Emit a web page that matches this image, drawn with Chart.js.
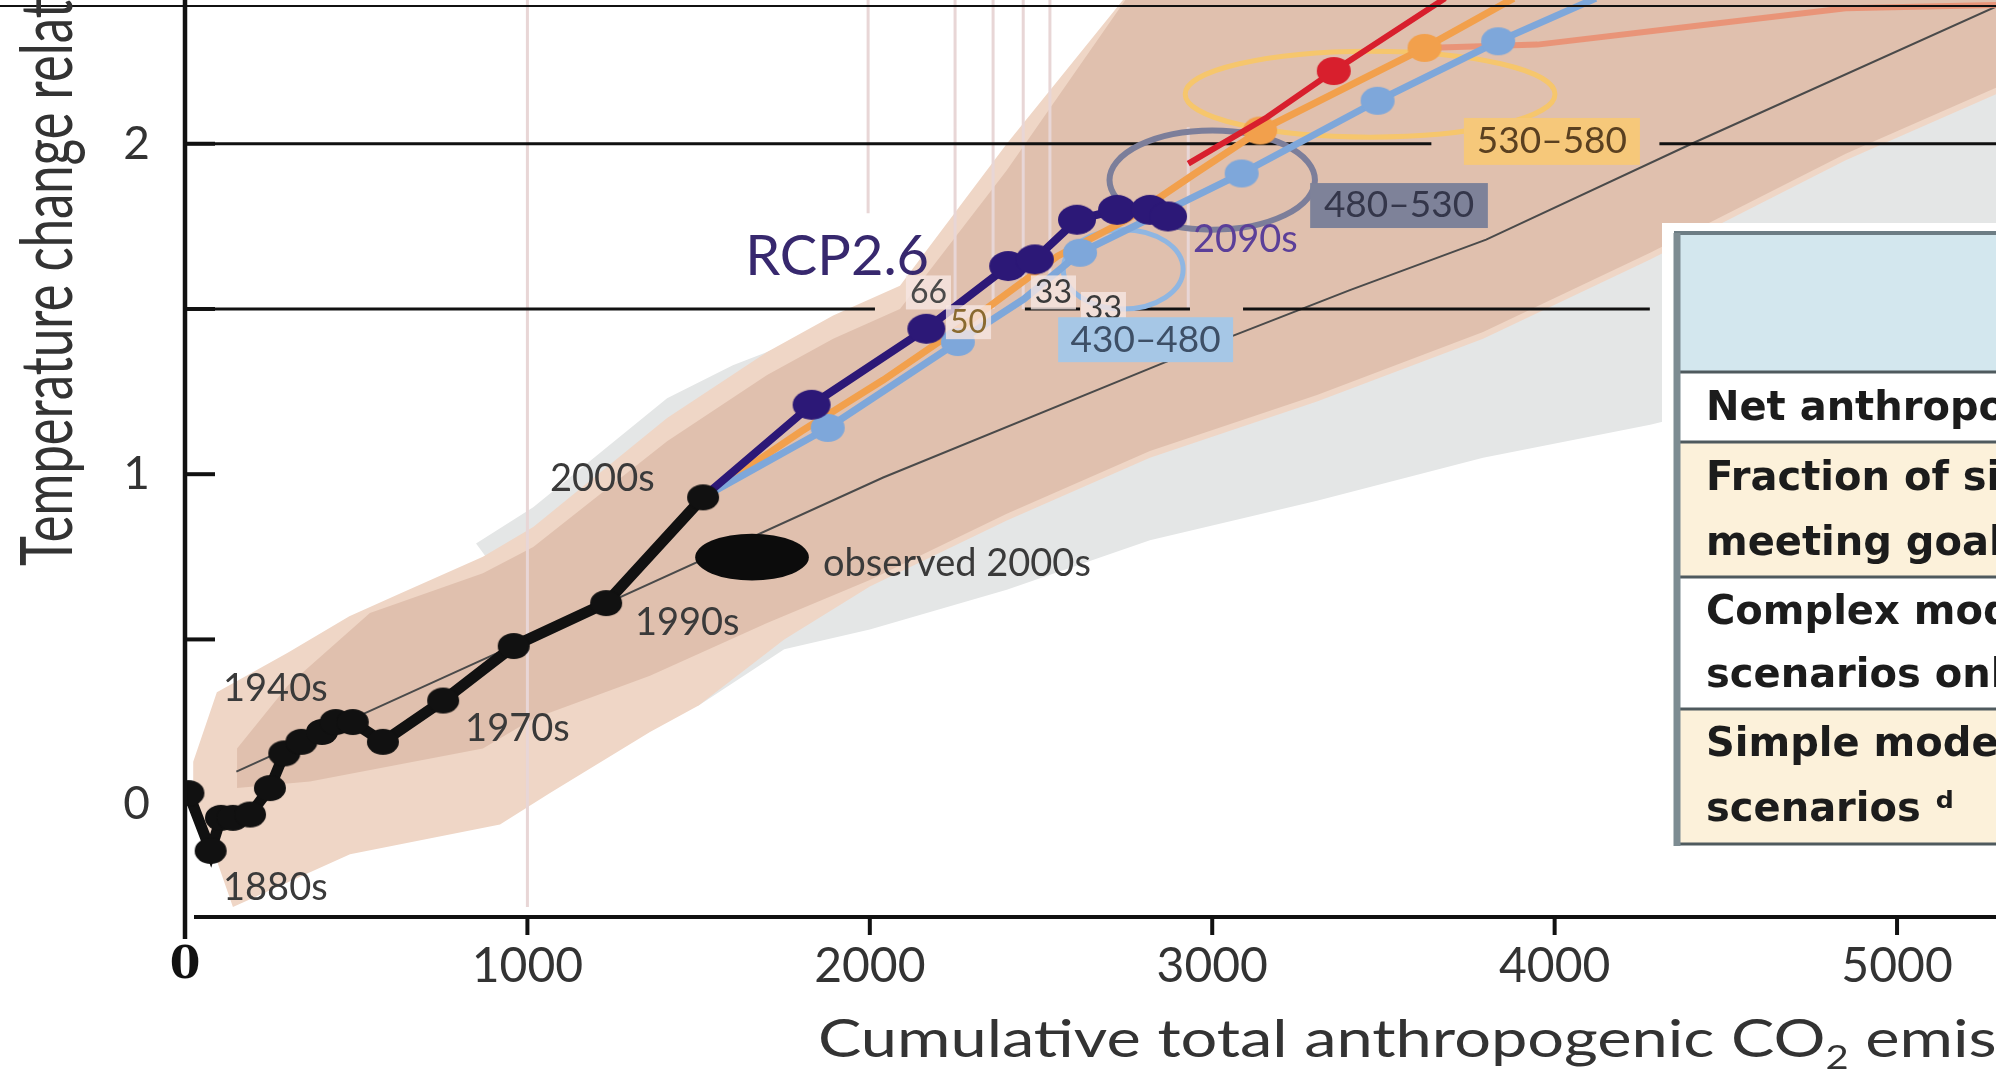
<!DOCTYPE html>
<html><head><meta charset="utf-8">
<script src="https://cdn.jsdelivr.net/npm/chart.js@4/dist/chart.umd.min.js"></script>
<style>html,body{margin:0;padding:0;background:#fff;overflow:hidden}canvas{display:block}</style>
</head><body>
<canvas id="c" width="1996" height="1076"></canvas>
<script>
// ---------------- data ----------------
const xTicks = [0, 1000, 2000, 3000, 4000, 5000];
const yTicks = [0, 1, 2];
// historical observations (black)
const histX = [10, 75, 105, 140, 190, 248, 290, 340, 400, 440, 490, 578, 754, 960, 1230, 1513];
const histY = [0.035, -0.14, -0.04, -0.04, -0.03, 0.05, 0.155, 0.19, 0.22, 0.25, 0.25, 0.19, 0.315, 0.48, 0.61, 0.93];
// RCP2.6 (purple)
const rcp26X = [1513, 1830, 2165, 2404, 2482, 2605, 2722, 2818, 2871];
const rcp26Y = [0.93, 1.21, 1.44, 1.63, 1.65, 1.77, 1.80, 1.80, 1.78];
// light blue scenario
const blueX = [1513, 1877, 2257, 2450, 2614, 2850, 3086, 3483, 3835, 4120];
const blueY = [0.93, 1.14, 1.40, 1.53, 1.67, 1.79, 1.91, 2.13, 2.31, 2.44];
// orange scenario
const orangeX = [1513, 1800, 2039, 2300, 2548, 2750, 2950, 3140, 3620, 3880];
const orangeY = [0.93, 1.13, 1.285, 1.47, 1.66, 1.77, 1.91, 2.04, 2.29, 2.44];
// red scenario
const redX = [2930, 3160, 3355, 3680];
const redY = [1.94, 2.08, 2.22, 2.44];
// salmon scenario
const salmonX = [3620, 3950, 4360, 4850, 5300];
const salmonY = [2.29, 2.30, 2.35, 2.41, 2.42];
// thin fit line
const fitX = [150, 1000, 2039, 2856, 3402, 3800, 4400, 5300];
const fitY = [0.10, 0.50, 0.99, 1.336, 1.557, 1.71, 2.00, 2.42];
// observed 2000s (centre and half-extent)
const obsX = [1656], obsY = [0.749], obsHalfX = [166], obsHalfY = [0.071];
// range ellipses: grey-purple, orange, light blue
const ellX = [3000, 3461, 2740], ellY = [1.89, 2.15, 1.62];
const ellHalfX = [300, 540, 175], ellHalfY = [0.15, 0.13, 0.12];
// grey band
const grayTopX = [850, 1017, 1408, 1600, 1700, 1893, 2088, 2300, 2600, 2900, 5400];
const grayTopY = [0.79, 0.90, 1.23, 1.33, 1.37, 1.46, 1.53, 1.75, 2.10, 2.50, 2.50];
const grayBotX = [5400, 4800, 4279, 3791, 3306, 2818, 2400, 2000, 1750, 1500, 1200];
const grayBotY = [1.42, 1.28, 1.15, 1.05, 0.92, 0.80, 0.65, 0.53, 0.47, 0.30, 0.30];
// outer (light) pink band
const pinkTopX = [24, 93, 300, 480, 630, 870, 1017, 1408, 1700, 1893, 2088, 2400, 2790, 5400];
const pinkTopY = [0.13, 0.34, 0.46, 0.57, 0.64, 0.75, 0.84, 1.17, 1.37, 1.48, 1.57, 2.00, 2.50, 2.50];
const pinkBotX = [5400, 4850, 4279, 3791, 3306, 2818, 2400, 2000, 1750, 1500, 1358, 1066, 920, 482, 140, 93, 24];
const pinkBotY = [2.20, 1.95, 1.65, 1.41, 1.22, 1.05, 0.86, 0.66, 0.50, 0.30, 0.22, 0.035, -0.06, -0.15, -0.31, -0.17, 0.03];
// inner (darker) band
const innerTopX = [152, 300, 540, 870, 1017, 1408, 1700, 1893, 2088, 2400, 2790, 5400];
const innerTopY = [0.17, 0.36, 0.58, 0.70, 0.78, 1.10, 1.30, 1.41, 1.50, 1.92, 2.50, 2.50];
const innerBotX = [5400, 4850, 4279, 3791, 3306, 2818, 2400, 2000, 1700, 1358, 1017, 870, 365, 152];
const innerBotY = [2.22, 1.97, 1.67, 1.43, 1.24, 1.07, 0.88, 0.68, 0.55, 0.39, 0.26, 0.17, 0.07, 0.05];
// light vertical guide lines
const vlineX = [1000, 1995, 2249, 2360, 2448, 2526, 2930];
const vlineTop = [2.44, 2.44, 2.44, 2.44, 2.44, 2.44, 2.05];
const vlineBot = [-0.31, 1.79, 1.50, 1.50, 1.50, 1.60, 1.50];
// horizontal goal lines (1.5 and 2 degC) with their gaps
const goal2Segs = [[0, 3640], [4306, 5400]];
const goal15Segs = [[0, 2015], [2453, 2614], [2737, 2935], [3090, 4278]];
// table text
const tableRows = [
  ['Net anthropogenic warming ᵃ'],
  ['Fraction of simulations', 'meeting goal ᵇ'],
  ['Complex models, RCP', 'scenarios only ᶜ'],
  ['Simple model, WGIII', 'scenarios ᵈ']
];

// ---------------- helpers ----------------
const P = (xs, ys) => xs.map((x, i) => ({x: x, y: ys[i]}));
const poly = (tx, ty, bx, by) => P(tx, ty).concat(P(bx, by));
const hsegs = (y, segs) => { const o = []; segs.forEach(s => { o.push({x: s[0], y: y}, {x: s[1], y: y}, {x: s[1], y: null}); }); return o; };
const vsegs = () => { const o = []; vlineX.forEach((x, i) => { o.push({x: x, y: vlineTop[i]}, {x: x, y: vlineBot[i]}, {x: x, y: null}); }); return o; };
const dotIdx = (set, r) => (c => set.includes(c.dataIndex) ? r : 0);
function makeDot(color, rx, ry) {
  const cv = document.createElement('canvas');
  cv.width = Math.ceil(rx * 2 + 2); cv.height = Math.ceil(ry * 2 + 2);
  const g = cv.getContext('2d');
  g.fillStyle = color; g.beginPath(); g.ellipse(cv.width / 2, cv.height / 2, rx, ry, 0, 0, Math.PI * 2); g.fill();
  return cv;
}
const NONE = 'rgba(0,0,0,0)';
const band = (label, data, color, order) => ({label, data, fill: 'shape', backgroundColor: color, borderColor: NONE, borderWidth: 0, pointRadius: 0, order});
const line = (label, data, color, w, order, radius, dot) => ({label, data, fill: false, borderColor: color, borderWidth: w,
  pointRadius: radius || 0, pointStyle: dot || 'circle', pointBackgroundColor: color, pointBorderWidth: 0, order, spanGaps: false});

const FONT = 'Lato, "Open Sans", sans-serif';

const deco = {
  id: 'deco',
  afterDatasetDraw(chart, args) {
    if (chart.data.datasets[args.index].label !== 'goals') return;
    const c = chart.ctx, xs = chart.scales.x, ys = chart.scales.y;
    const colors = ['#7c7e9a', '#f6c66c', '#8fb6e2'], widths = [6, 5, 5];
    c.save();
    ellX.forEach((x, i) => {
      const cx = xs.getPixelForValue(x), cy = ys.getPixelForValue(ellY[i]);
      const rx = xs.getPixelForValue(x + ellHalfX[i]) - cx, ry = cy - ys.getPixelForValue(ellY[i] + ellHalfY[i]);
      c.beginPath(); c.ellipse(cx, cy, rx, ry, 0, 0, Math.PI * 2);
      c.strokeStyle = colors[i]; c.lineWidth = widths[i]; c.stroke();
    });
    c.restore();
  },
  afterDatasetsDraw(chart) {
    const c = chart.ctx, xs = chart.scales.x, ys = chart.scales.y, a = chart.chartArea;
    const X = v => xs.getPixelForValue(v), Y = v => ys.getPixelForValue(v);
    c.save();
    // observed 2000s ellipse
    c.beginPath();
    c.ellipse(X(obsX[0]), Y(obsY[0]), X(obsX[0] + obsHalfX[0]) - X(obsX[0]), Y(obsY[0]) - Y(obsY[0] + obsHalfY[0]), 0, 0, Math.PI * 2);
    c.fillStyle = '#0c0c0c'; c.fill();

    const text = (t, x, y, font, color, align) => {
      c.font = font; c.fillStyle = color; c.textAlign = align || 'left'; c.textBaseline = 'middle'; c.fillText(t, x, y);
    };
    // decade labels
    const yl = [['1880s', 111, -0.25], ['1940s', 111, 0.35], ['1970s', 818, 0.23], ['1990s', 1314, 0.55], ['2000s', 1066, 0.985], ['observed 2000s', 1863, 0.73]];
    yl.forEach(l => text(l[0], X(l[1]), Y(l[2]), '38px ' + FONT, '#3a3a3a'));
    text('RCP2.6', X(1636), Y(1.657), '56px ' + FONT, '#37286e');
    text('2090s', X(2944), Y(1.708), '38px ' + FONT, '#5b3f99');
    // small percentage boxes
    const sm = [['66', 2117, 1.55, '#4a4a4a'], ['50', 2234, 1.46, '#8a6a30'], ['33', 2482, 1.55, '#3a3a3a'], ['33', 2628, 1.50, '#3a3a3a']];
    sm.forEach(l => {
      c.font = '32px ' + FONT; const w = c.measureText(l[0]).width;
      c.fillStyle = 'rgba(246,230,226,0.8)'; c.fillRect(X(l[1]) - 4, Y(l[2]) - 17, w + 8, 34);
      text(l[0], X(l[1]), Y(l[2]), '32px ' + FONT, l[3]);
    });
    // range boxes
    const rb = [['430–480', 2550, 3061, 1.475, 1.339, '#a6c7e6', '#3d4f66'],
                ['480–530', 3286, 3805, 1.881, 1.745, '#7e8299', '#34364a'],
                ['530–580', 3735, 4249, 2.078, 1.936, '#f6c87a', '#5a4020']];
    rb.forEach(b => {
      c.fillStyle = b[5]; c.fillRect(X(b[1]), Y(b[3]), X(b[2]) - X(b[1]), Y(b[4]) - Y(b[3]));
      text(b[0], (X(b[1]) + X(b[2])) / 2, (Y(b[3]) + Y(b[4])) / 2, '37px ' + FONT, b[6], 'center');
    });

    // table
    const L = 1674, R = 2100;
    const rowsY = [233, 372, 442, 577, 709, 844];
    c.fillStyle = '#fff'; c.fillRect(L - 12, rowsY[0] - 10, R, rowsY[5] - rowsY[0] + 22);
    c.fillStyle = '#d3e7ee'; c.fillRect(L, rowsY[0], R, rowsY[1] - rowsY[0]);
    const fills = ['#ffffff', '#fcf1da', '#ffffff', '#fcf1da'];
    for (let i = 0; i < 4; i++) { c.fillStyle = fills[i]; c.fillRect(L, rowsY[i + 1], R, rowsY[i + 2] - rowsY[i + 1]); }
    c.strokeStyle = '#6d7d84'; c.lineWidth = 4;
    c.beginPath(); c.moveTo(L, rowsY[0]); c.lineTo(R, rowsY[0]); c.stroke();
    c.strokeStyle = '#4f5a5e'; c.lineWidth = 3;
    for (let i = 1; i < rowsY.length; i++) { c.beginPath(); c.moveTo(L, rowsY[i]); c.lineTo(R, rowsY[i]); c.stroke(); }
    c.strokeStyle = '#7d8c92'; c.lineWidth = 7;
    c.beginPath(); c.moveTo(L + 3, rowsY[0]); c.lineTo(L + 3, rowsY[5] + 2); c.stroke();
    const rowText = [[410], [480, 545], [614, 677], [746, 811]];
    tableRows.forEach((r, i) => r.forEach((t, j) => {
      c.font = 'bold 40px "DejaVu Sans", Verdana, sans-serif'; c.fillStyle = '#1c1c1c'; c.textAlign = 'left'; c.textBaseline = 'middle';
      c.fillText(t, 1706, rowText[i][j]);
    }));

    // axes
    c.strokeStyle = '#111';
    c.lineWidth = 2; c.beginPath(); c.moveTo(0, 6); c.lineTo(1996, 6); c.stroke();
    c.lineWidth = 4.5; c.beginPath(); c.moveTo(X(0), 0); c.lineTo(X(0), a.bottom + 22); c.stroke();
    c.lineWidth = 4; c.beginPath(); c.moveTo(X(0) + 9, a.bottom); c.lineTo(a.right, a.bottom); c.stroke();
    xTicks.forEach(v => { if (v > 0) { c.beginPath(); c.moveTo(X(v), a.bottom); c.lineTo(X(v), a.bottom + 18); c.stroke(); } });
    [0.5, 1, 1.5, 2].forEach(v => { c.beginPath(); c.moveTo(X(0), Y(v)); c.lineTo(X(0) + 30, Y(v)); c.stroke(); });
    // x tick labels, placed through the x scale
    xTicks.forEach(v => {
      if (v === 0) text('0', X(0), 967, 'bold 44px "DejaVu Serif", serif', '#111', 'center');
      else text(String(v), X(v), 967, '48px ' + FONT, '#333', 'center');
    });

    // axis titles (horizontally stretched like the source image)
    c.fillStyle = '#333'; c.textAlign = 'left'; c.textBaseline = 'alphabetic';
    c.font = '52px ' + FONT;
    const yTitle = 'Temperature change relative to 1861–1880 (°C)';
    const ySize = 52 * 523 / c.measureText('Temperature change rel').width;
    c.save(); c.translate(72, 566); c.rotate(-Math.PI / 2); c.scale(1, 1.4);
    c.font = ySize.toFixed(1) + 'px ' + FONT; c.fillText(yTitle, 0, 0);
    c.restore();
    c.font = '52px ' + FONT;
    const sx = 913 / c.measureText('Cumulative total anthropogenic ').width;
    c.save(); c.translate(818, 1057); c.scale(sx, 1);
    let tx = 0;
    const parts = [['Cumulative total anthropogenic CO', 0], ['2', 1], [' emissions from 1870 (GtCO', 0], ['2', 1], [')', 0]];
    parts.forEach(p => {
      c.font = (p[1] ? '32px ' : '52px ') + FONT;
      c.fillText(p[0], tx, p[1] ? 12 : 0);
      tx += c.measureText(p[0]).width;
    });
    c.restore();
    c.restore();
  }
};

const dotBlack = makeDot('#111', 16, 13), dotPurple = makeDot('#2c1877', 19, 15), dotBlue = makeDot('#7ea7da', 17, 14),
      dotOrange = makeDot('#f2a04c', 17, 14), dotRed = makeDot('#d81f2d', 17, 14);

new Chart(document.getElementById('c'), {
  type: 'line',
  data: {
    datasets: [
      band('gray', poly(grayTopX, grayTopY, grayBotX, grayBotY), '#e4e6e6', 100),
      band('pinkOuter', poly(pinkTopX, pinkTopY, pinkBotX, pinkBotY), '#efd6c6', 99),
      band('pinkInner', poly(innerTopX, innerTopY, innerBotX, innerBotY), '#e0c0ae', 98),
      line('vlines', vsegs(), '#e8d6d6', 3, 97),
      line('fit', P(fitX, fitY), '#4a4a4a', 2, 96),
      line('goals', hsegs(2, goal2Segs).concat(hsegs(1.5, goal15Segs)), '#111', 3, 95),
      line('salmon', P(salmonX, salmonY), 'rgba(234,140,110,0.85)', 6, 90),
      line('orange', P(orangeX, orangeY), '#f2a04c', 7, 89, dotIdx([7, 8], 14), dotOrange),
      line('blue', P(blueX, blueY), '#7ea7da', 7, 88, dotIdx([1, 2, 4, 6, 7, 8], 14), dotBlue),
      line('red', P(redX, redY), '#d81f2d', 6, 87, dotIdx([2], 14), dotRed),
      line('rcp26', P(rcp26X, rcp26Y), '#2c1877', 8, 86, dotIdx([1, 2, 3, 4, 5, 6, 7, 8], 15), dotPurple),
      line('hist', P(histX, histY), '#111', 11, 85, dotIdx(histX.map((v, i) => i), 13), dotBlack)
    ]
  },
  options: {
    responsive: false, animation: false, devicePixelRatio: 1, events: [],
    layout: {padding: 0, autoPadding: false},
    plugins: {legend: {display: false}, tooltip: {enabled: false}},
    scales: {
      x: {type: 'linear', min: 0, max: 5289, grid: {display: false}, border: {display: false},
        ticks: {display: false, stepSize: 1000, includeBounds: false, autoSkip: false, maxRotation: 0, minRotation: 0},
        afterFit: s => { s.height = 159; s.paddingLeft = 0; s.paddingRight = 0; s.paddingTop = 0; s.paddingBottom = 0; }},
      y: {type: 'linear', min: -0.34, max: 2.435, grid: {display: false}, border: {display: false},
        ticks: {stepSize: 0.5, includeBounds: false, autoSkip: false, padding: 27, color: '#333', font: {family: FONT, size: 46},
          callback: v => yTicks.includes(v) ? String(v) : ''},
        afterFit: s => { s.width = 185; s.paddingLeft = 0; s.paddingRight = 0; s.paddingTop = 0; s.paddingBottom = 0; }}
    }
  },
  plugins: [deco]
});
</script>
</body></html>
